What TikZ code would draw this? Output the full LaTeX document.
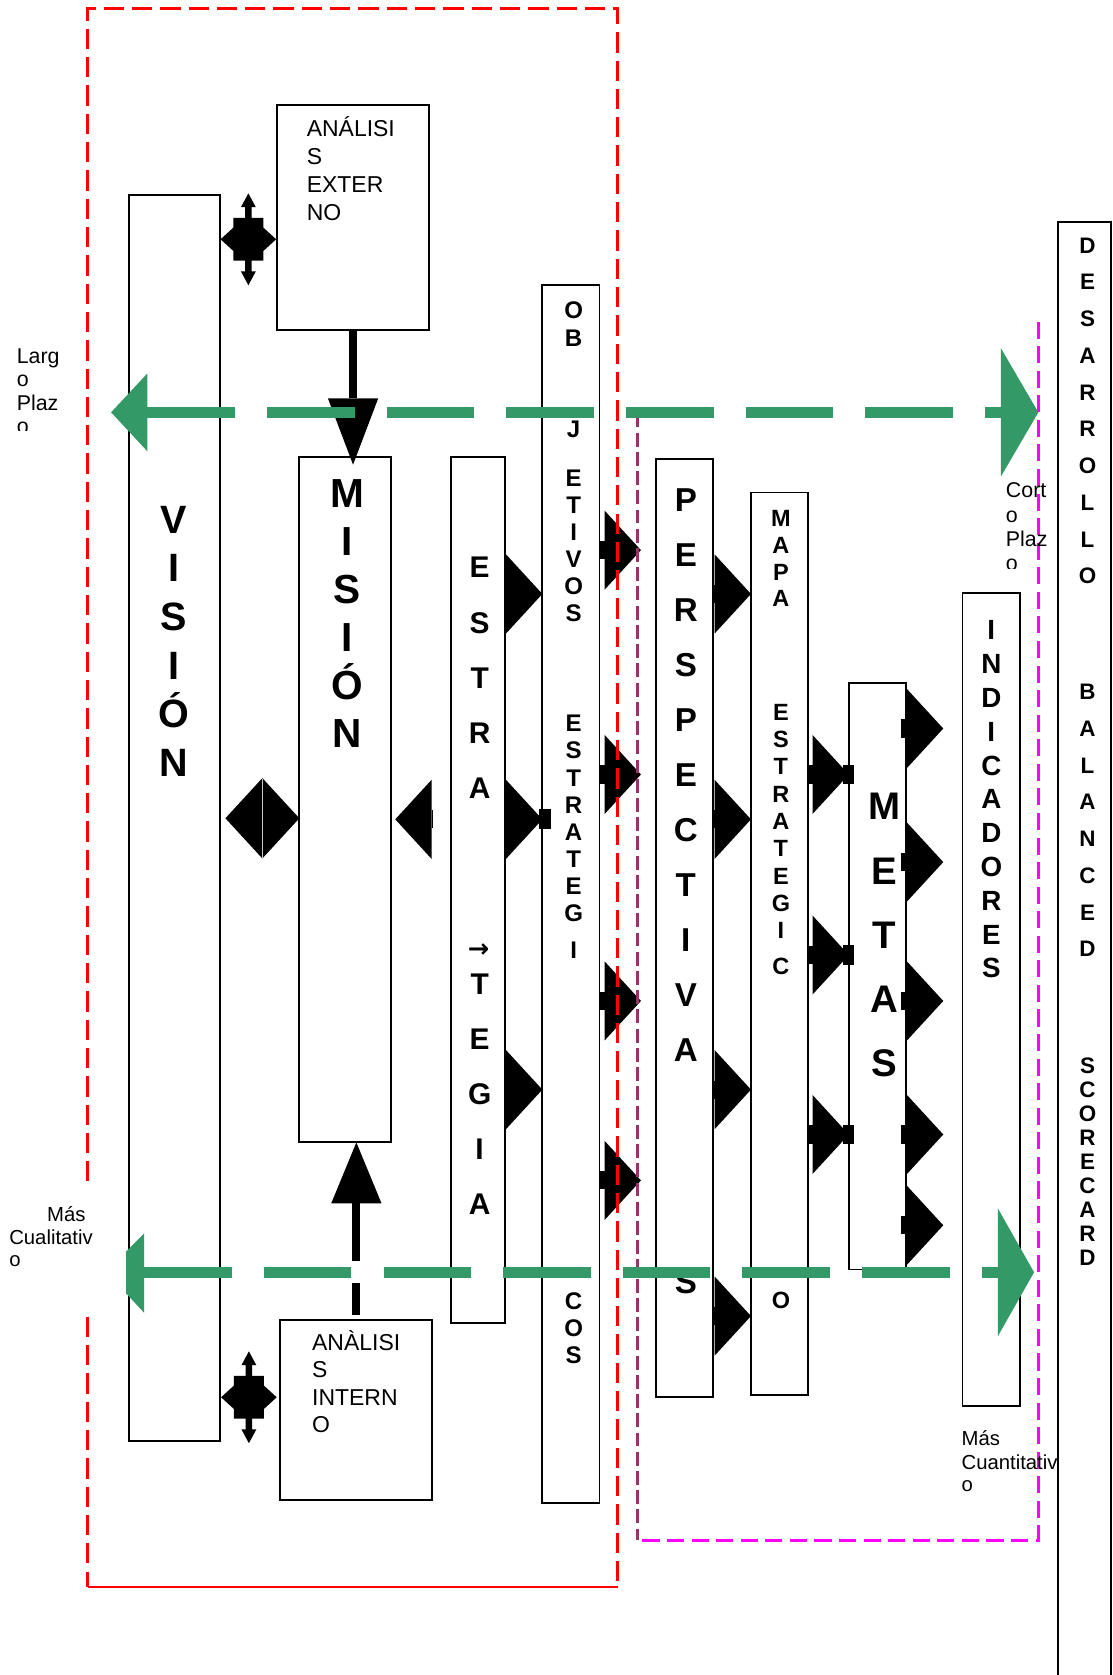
\documentclass[tikz,border=0pt]{standalone}
\usepackage{fontspec}
\setmainfont{Liberation Sans}
\newfontfamily\arrowfont{DejaVu Sans}
\usetikzlibrary{arrows.meta}
\definecolor{SeaGreen}{HTML}{339966}
\definecolor{PlumLine}{HTML}{993366}
\definecolor{PinkLine}{HTML}{FF00FF}
\definecolor{RedLine}{HTML}{FF0000}

\begin{document}
\begin{tikzpicture}[x=1pt,y=-1pt,
    box/.style={draw,line width=1.8pt,fill=white,inner sep=0pt,outer sep=0pt,anchor=north west},
    big/.style={font=\bfseries\fontsize{#1}{#1}\selectfont,inner sep=0pt,anchor=base},
    txt/.style={font=\fontsize{#1}{#1}\selectfont,inner sep=0pt,anchor=base west},
    tri/.style={line width=17pt,-{Triangle[length=34pt,width=74pt,line width=0pt]}},
    gline/.style={SeaGreen,line width=10pt,dash pattern=on 82pt off 30pt},
    redline/.style={RedLine,line width=2.6pt},
    quadarrow/.pic={
      \fill (-3,-20) -- (-3,-30) -- (-7,-30) -- (0,-43) -- (7,-30) -- (3,-30) -- (3,-20)
        -- (14,-20) -- (14,-11) -- (26,0) -- (14,11) -- (14,20) -- (3,20) -- (3,30)
        -- (7,30) -- (0,43) -- (-7,30) -- (-3,30) -- (-3,20) -- (-14,20) -- (-14,11)
        -- (-26,0) -- (-14,-11) -- (-14,-20) -- cycle;
    },
  ]
  \useasboundingbox (0,0) rectangle (1041,1568);

  % columns
  \node[box,minimum width=85.4pt,minimum height=1166.5pt] (vis) at (120.6,182.5) {};
  \node[box,minimum width=142.4pt,minimum height=210.7pt] (ext) at (259.3,98.3) {};
  \node[box,minimum width=142.4pt,minimum height=168.3pt] (int) at (262.4,1235.7) {};
  \node[box,minimum width=85.8pt,minimum height=641.4pt] (mis) at (280.2,428) {};
  \node[box,minimum width=50.4pt,minimum height=810.6pt] (estr) at (422.3,428) {};
  \node[box,minimum width=53.5pt,minimum height=1140.2pt] (obj) at (507.7,266.8) {};
  \node[box,minimum width=53.7pt,minimum height=878.3pt] (persp) at (614,429.7) {};
  \node[box,minimum width=53.5pt,minimum height=844.5pt] (mapa) at (703,461) {};
  \node[box,minimum width=53.4pt,minimum height=548.7pt] (metas) at (794.6,639.7) {};
  \node[box,minimum width=54pt,minimum height=760.3pt] (ind) at (901,555.5) {};
  \node[box,minimum width=50pt,minimum height=1400pt] (bsc) at (990,207.5) {};

  % box texts
  \foreach \t [count=\i from 0] in {ANÁLISI,S,EXTER,NO}
    \node[txt=21.5] (extl\i) at (287,128+\i*26) {\t};
  \foreach \t [count=\i from 0] in {ANÀLISI,S,INTERN,O}
    \node[txt=21.5] (intl\i) at (292,1264+\i*25.7) {\t};
  \foreach \l [count=\i from 0] in {V,I,S,I,Ó,N}
    \node[big=37] (visl\i) at (163,499+\i*45.6) {\l};
  \foreach \l [count=\i from 0] in {M,I,S,I,Ó,N}
    \node[big=38] (misl\i) at (325,475+\i*45) {\l};
  \foreach \l [count=\i from 0] in {E,S,T,R,A}
    \node[big=28] (estra\i) at (449,541+\i*51.6) {\l};
  \foreach \l [count=\i from 0] in {T,E,G,I,A}
    \node[big=28] (estrb\i) at (449,931+\i*51.5) {\l};
  \node[inner sep=0pt,font=\arrowfont\bfseries\fontsize{24}{24}\selectfont] (estrarrow) at (448,890) {→};
  \foreach \l/\y [count=\i] in {O/298,B/324.5,J/410,E/455,T/480.4,I/505.8,V/531.2,O/556.6,S/582,
      E/685,S/710.4,T/735.8,R/761.2,A/786.6,T/812,E/837.4,G/862.8,I/897,C/1226,O/1251,S/1276}
    \node[big=22.5] (objl\i) at (537,\y) {\l};
  \foreach \l [count=\i from 0] in {P,E,R,S,P,E,C,T,I,V,A}
    \node[big=31] (perspl\i) at (642,479+\i*51.5) {\l};
  \node[big=31] (perspS) at (642,1211) {S};
  \foreach \l/\y [count=\i] in {M/493,A/518,P/543,A/568,E/674,S/699.6,T/725.2,R/750.8,A/776.4,
      T/802,E/827.6,G/853.2,I/878.8,C/912,O/1225}
    \node[big=22] (mapal\i) at (731,\y) {\l};
  \foreach \l [count=\i from 0] in {M,E,T,A,S}
    \node[big=36] (metasl\i) at (828,767.6+\i*60) {\l};
  \foreach \l [count=\i from 0] in {I,N,D,I,C,A,D,O,R,E,S}
    \node[big=26] (indl\i) at (928,599+\i*31.65) {\l};
  \foreach \l [count=\i from 0] in {D,E,S,A,R,R,O,L,L,O}
    \node[big=21] (bsca\i) at (1018,237+\i*34.4) {\l};
  \foreach \l [count=\i from 0] in {B,A,L,A,N,C,E,D}
    \node[big=21] (bscb\i) at (1018,655+\i*34.4) {\l};
  \foreach \l [count=\i from 0] in {S,C,O,R,E,C,A,R,D}
    \node[big=21] (bscc\i) at (1018,1004.5+\i*22.56) {\l};

  % black arrows
  \draw[line width=8pt,shorten >=-7pt,-{Triangle[length=62pt,width=47pt,line width=0pt]}]
    (ext.south) -- (ext.south |- mis.north);
  \draw[line width=7.5pt,dash pattern=on 30pt off 20pt on 300pt,shorten <=5pt,
    -{Triangle[length=57pt,width=47pt,line width=0pt]}] (int.north) -- (int.north |- mis.south);
  \pic (qext) at (232.5,224) {quadarrow};
  \pic (qint) at (233,1308) {quadarrow};
  \draw[{Triangle[length=34.5pt,width=75pt,line width=0pt]}-{Triangle[length=34.5pt,width=75pt,line width=0pt]},
    shorten <=5pt] (vis.east |- 0,766) -- (mis.west |- 0,766);
  \draw[gray!45,line width=0.8pt] (245.3,729) -- (245.3,803.6);
  \draw[tri,shorten <=17.5pt,shorten >=4pt] (estr.west |- 0,767) -- (mis.east |- 0,767);
  \foreach \y in {556,767,1020}
    \draw[tri,shorten <=2pt] (estr.east |- 0,\y) -- (obj.west |- 0,\y);
  \fill (obj.west |- 0,767) +(-3,-9.5) rectangle +(8.5,9.5);
  \foreach \y in {515,725,937,1105}
    \draw[tri,shorten >=14pt] (obj.east |- 0,\y) -- (persp.west |- 0,\y);
  \foreach \y in {556,767,1020,1232}
    \draw[tri,shorten <=-1.5pt] (persp.east |- 0,\y) -- (mapa.west |- 0,\y);
  \foreach \y in {725,894,1062} {
    \draw[tri] (mapa.east |- 0,\y) -- (metas.west |- 0,\y);
    \fill (metas.west |- 0,\y) +(-5,-9) rectangle +(5,9);
  }
  \foreach \y in {682,807,937,1062,1147}
    \draw[tri,shorten <=-5pt,shorten >=18pt] (metas.east |- 0,\y) -- (ind.west |- 0,\y);

  % dashed frames
  \draw[redline,dash pattern=on 19pt off 7.5pt] (82,1106) -- (82,8) -- (578.3,8) -- (578.3,1485.7);
  \draw[redline,dash pattern=on 19pt off 7.5pt] (82,1232.6) -- (82,1485.7);
  \draw[redline] (82,1485.7) -- (578.3,1485.7);
  \draw[PinkLine,line width=2.8pt,dash pattern=on 16pt off 7pt] (971.7,301) -- (971.7,1441.7) -- (596.4,1441.7);
  \draw[PlumLine,line width=2.7pt,dash pattern=on 13pt off 5pt] (596.4,387) -- (596.4,1441.7);

  % green arrows
  \coordinate (largo) at (104,386);
  \coordinate (corto) at (972,386);
  \coordinate (cuali) at (135,1191);
  \coordinate (cuanti) at (968,1191);
  \draw[gline,{Triangle[length=34pt,width=73pt,line width=0pt]}-{Triangle[length=35pt,width=120pt,line width=0pt]}]
    (largo) -- (corto);
  \draw[gline,-{Triangle[length=34pt,width=120pt,line width=0pt]}] (cuali) -- (cuanti);
  \fill[SeaGreen] (135,1154.6) -- (135,1229) -- (118,1210.7) -- (118,1171.7) -- cycle;

  % side labels
  \begin{scope}
    \clip (0,300) rectangle (80,403);
    \foreach \t [count=\i from 0] in {Larg,o,Plaz,o}
      \node[txt=20] (largol\i) at (15.5,340+\i*22) {\t};
  \end{scope}
  \begin{scope}
    \clip (930,440) rectangle (1000,532);
    \foreach \t [count=\i from 0] in {Cort,o,Plaz,o}
      \node[txt=20] (cortol\i) at (941.5,466+\i*22.8) {\t};
  \end{scope}
  \node[txt=19] (cualia) at (44,1143) {Más};
  \node[txt=19] (cualib) at (8.5,1165) {Cualitativ};
  \node[txt=19] (cualic) at (8.5,1186) {o};
  \node[txt=19] (cuantia) at (900,1353.5) {Más};
  \node[txt=19] (cuantib) at (900,1375.8) {Cuantitativ};
  \node[txt=19] (cuantic) at (900,1396.6) {o};
\end{tikzpicture}
\end{document}
